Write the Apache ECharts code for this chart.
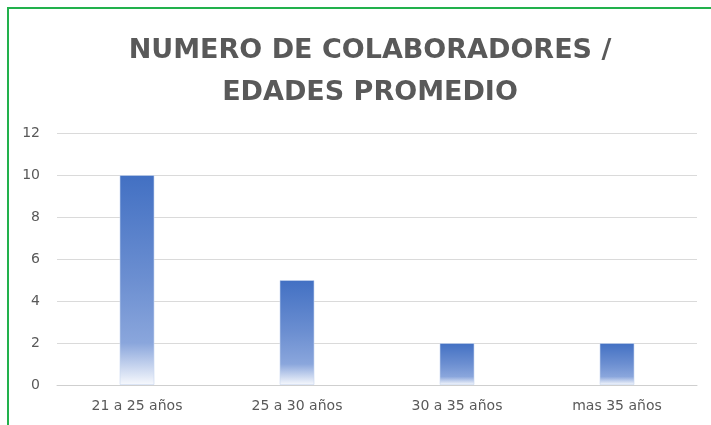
<!DOCTYPE html>
<html>
<head>
<meta charset="utf-8">
<script src="https://cdn.jsdelivr.net/npm/echarts@6/dist/echarts.min.js"></script>
<style>
  html, body { margin: 0; padding: 0; background: #fff; }
  #chart { width: 711px; height: 425px; }
</style>
</head>
<body>
<div id="chart"></div>
<script>
  // datos del grafico
  const categorias = ['21 a 25 años', '25 a 30 años', '30 a 35 años', 'mas 35 años']
  const colaboradores = [10, 5, 2, 2]
  const ticksY = [0, 2, 4, 6, 8, 10, 12]

  const labelColor = '#595959'

  let myChart = echarts.init(document.getElementById('chart'))
  myChart.setOption({
    animation: false,
    backgroundColor: '#ffffff',
    title: {
      text: 'NUMERO DE COLABORADORES /\nEDADES PROMEDIO',
      left: 365,
      top: 25,
      textAlign: 'center',
      textStyle: {
        color: labelColor,
        fontFamily: 'DejaVu Sans',
        fontWeight: 'bold',
        fontSize: 27,
        lineHeight: 42
      }
    },
    // borde verde de la celda
    graphic: [
      {
        type: 'line',
        shape: { x1: 8, y1: 8, x2: 8, y2: 425 },
        style: { stroke: '#22b14c', lineWidth: 2 }
      },
      {
        type: 'line',
        shape: { x1: 7, y1: 8, x2: 711, y2: 8 },
        style: { stroke: '#22b14c', lineWidth: 2 }
      }
    ],
    grid: {
      left: 57,
      right: 14,
      top: 133,
      bottom: 40
    },
    xAxis: {
      type: 'category',
      data: categorias,
      axisLine: { lineStyle: { color: '#cfcfcf', width: 1 } },
      axisTick: { show: false },
      axisLabel: {
        color: labelColor,
        fontFamily: 'DejaVu Sans',
        fontSize: 14,
        margin: 14
      }
    },
    yAxis: {
      type: 'value',
      min: ticksY[0],
      max: ticksY[ticksY.length - 1],
      interval: 2,
      axisLine: { show: false },
      axisTick: { show: false },
      axisLabel: {
        color: labelColor,
        fontFamily: 'DejaVu Sans',
        fontSize: 14,
        margin: 17
      },
      splitLine: {
        lineStyle: { color: '#dadada', width: 1 }
      }
    },
    series: [
      {
        name: 'Colaboradores',
        type: 'bar',
        barWidth: 35,
        data: colaboradores,
        itemStyle: {
          borderColor: 'rgba(200,215,240,0.6)',
          borderWidth: 1,
          color: new echarts.graphic.LinearGradient(0, 0, 0, 1, [
            { offset: 0, color: '#4270c3' },
            { offset: 0.5, color: '#6c8fd1' },
            { offset: 0.8, color: '#8aa6dc' },
            { offset: 1, color: '#f7f9fd' }
          ])
        }
      }
    ]
  })
</script>
</body>
</html>
